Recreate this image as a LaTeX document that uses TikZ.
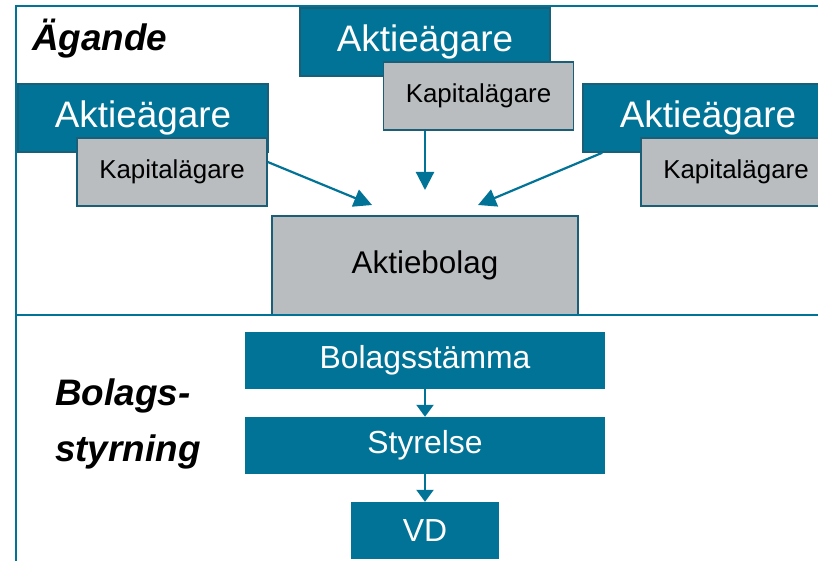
\documentclass[tikz,border=0pt]{standalone}
\usepackage{fontspec}
\setmainfont{Liberation Sans}
\usetikzlibrary{arrows.meta}

\definecolor{bolagblue}{HTML}{007396}
\definecolor{kantblue}{HTML}{1B5E77}
\definecolor{kapgray}{HTML}{B9BDBF}

\tikzset{
  aktie/.style={draw=kantblue, line width=1.5bp, fill=bolagblue, text=white,
    minimum width=250bp, minimum height=68bp, inner sep=0pt,
    font=\fontsize{37}{44}\selectfont},
  kapital/.style={draw=kantblue, line width=1.5bp, fill=kapgray, text=black,
    minimum width=190bp, minimum height=68bp, inner sep=0pt,
    font=\fontsize{26}{31}\selectfont},
  organ/.style={fill=bolagblue, text=white, minimum height=57bp, inner sep=0pt,
    font=\fontsize{32}{38}\selectfont},
  pil/.style={draw=bolagblue, line width=2.2bp, -{Triangle[length=18bp,width=18bp]}},
  kortpil/.style={pil, -{Triangle[length=12bp,width=17bp]}},
  rubrik/.style={anchor=west, align=left, inner sep=0pt,
    font=\fontsize{37}{56}\selectfont\bfseries\itshape}
}

\begin{document}
\begin{tikzpicture}[x=1bp, y=-1bp]
\useasboundingbox (0,0) rectangle (818,561);
\clip (0,0) rectangle (818,561);

% agande
\node[aktie] (aktL) at (143,118) {Aktieägare};
\node[aktie] (aktM) at (425,42) {Aktieägare};
\node[aktie] (aktR) at (708,118) {Aktieägare};
\node[kapital] (kapL) at (172,172) {Kapitalägare};
\node[kapital] (kapM) at (478.5,96) {Kapitalägare};
\node[kapital] (kapR) at (736,172) {Kapitalägare};
\node[kapital, minimum width=306bp, minimum height=99bp,
  font=\fontsize{31.5}{38}\selectfont] (bolag) at (425,265.5) {Aktiebolag};

\coordinate (tipL) at (372,205);
\coordinate (tipM) at (425,190);
\coordinate (tipR) at (478,205);
\draw[pil] ([yshift=10bp]kapL.east) -- (tipL);
\draw[pil] (aktM.south |- kapM.south) -- (tipM);
\draw[pil] ([xshift=20bp]aktR.south west) -- (tipR);

% bolagsstyrning
\node[organ, minimum width=360bp] (stamma) at (425,360) {Bolagsstämma};
\node[organ, minimum width=360bp] (styrelse) at (425,445.5) {Styrelse};
\node[organ, minimum width=148bp] (vd) at (425,530.5) {VD};
\draw[kortpil] (stamma.south) -- (styrelse.north);
\draw[kortpil] (styrelse.south) -- (vd.north);

% ram
\draw[bolagblue, line width=2.5bp] (16,561) -- (16,6) -- (818,6);
\draw[bolagblue, line width=2.5bp] (16,315) -- (818,315);

\node[rubrik] (agande) at (32,39) {Ägande};
\node[rubrik] (styrning) at (55,424) {Bolags-\\styrning};
\end{tikzpicture}
\end{document}
